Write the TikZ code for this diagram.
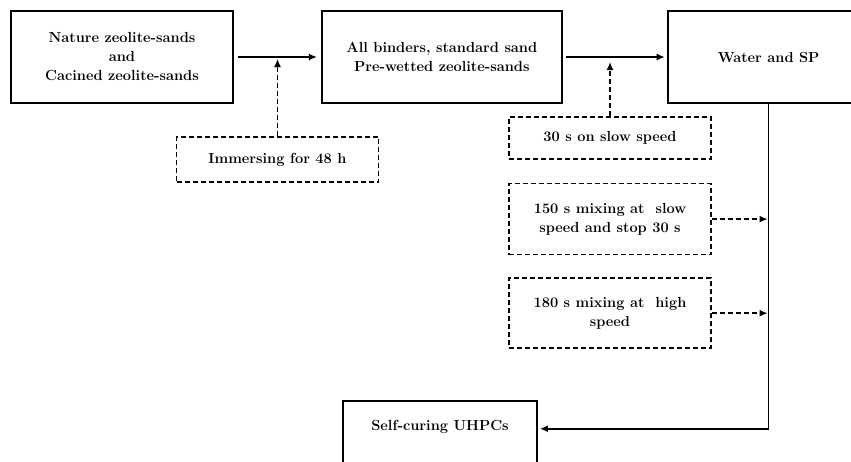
\documentclass[tikz,border=0pt]{standalone}
\usetikzlibrary{positioning,arrows.meta}
\begin{document}
\begin{tikzpicture}[x=1pt,y=-1pt,font=\fontsize{14.6}{19}\selectfont\bfseries,every node/.style={align=center}]
\tikzstyle{box}=[draw,line width=1.8pt,minimum width=222pt,minimum height=92pt,inner sep=0pt]
\tikzstyle{dbox}=[draw,line width=1.6pt,dash pattern=on 5pt off 3pt,minimum width=202pt,inner sep=0pt]
\tikzstyle{arrow}=[draw,line width=1.5pt,-{Latex[length=8pt,width=7pt]}]
\tikzstyle{darrow}=[arrow,dash pattern=on 5pt off 3pt]
\useasboundingbox (0,0) rectangle (851,461);

\node[box](n1) at (122,57){Nature zeolite-sands\\and\\Cacined zeolite-sands};
\node[box,minimum width=240pt,right=87pt of n1](n2){All binders, standard sand\\Pre-wetted zeolite-sands};
\node[box,minimum width=202pt,right=104pt of n2](n3){Water and SP};

\node[dbox,minimum height=45pt](d1) at (277.5,159.5){Immersing for 48 h};
\node[dbox,minimum height=42pt](d2) at (610,138){30 s on slow speed};
\node[dbox,minimum height=71pt,below=23pt of d2](d3){150 s mixing at~ slow\\speed and stop 30 s};
\node[dbox,minimum height=70pt,below=22pt of d3](d4){180 s mixing at~ high\\speed};

\node[box,minimum width=194pt,anchor=north,inner ysep=20pt,text height=10pt,text depth=70pt](n6) at (440,400){Self-curing UHPCs};

\path[arrow,shorten <=4pt,shorten >=4pt](n1)--(n2);
\path[arrow,shorten <=3pt,shorten >=2pt](n2)--(n3);

\path[darrow,shorten >=2pt](d1.north)--(d1.north |- n1.east);
\path[darrow,shorten >=5pt](d2.north)--(d2.north |- n2.east);
\path[darrow,shorten >=1pt](d3.east)--(d3.east -| n3.south);
\path[darrow,shorten >=1pt](d4.east)--(d4.east -| n3.south);

\path[arrow,shorten >=2pt](n3.south) |- (n6.mid east);
\end{tikzpicture}
\end{document}
